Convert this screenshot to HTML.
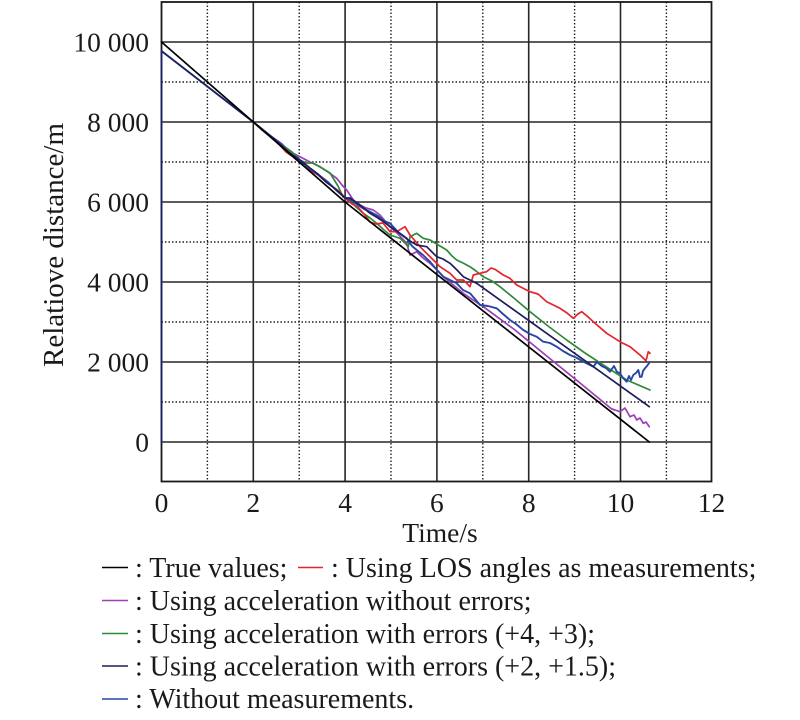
<!DOCTYPE html>
<html>
<head>
<meta charset="utf-8">
<style>
  html,body{margin:0;padding:0;background:#fff;}
  svg{display:block;}
  text{font-family:"Liberation Serif","Times New Roman",serif;fill:#1a1a1a;}
</style>
</head>
<body>
<svg width="800" height="720" viewBox="0 0 800 720" xmlns="http://www.w3.org/2000/svg">
  <rect x="0" y="0" width="800" height="720" fill="#fff"/>

  <!-- minor dotted grid -->
  <g stroke="#222" stroke-width="1.4" stroke-dasharray="1.5,2" fill="none">
    <line x1="207.4" y1="2" x2="207.4" y2="481.5"/>
    <line x1="299.2" y1="2" x2="299.2" y2="481.5"/>
    <line x1="391" y1="2" x2="391" y2="481.5"/>
    <line x1="482.8" y1="2" x2="482.8" y2="481.5"/>
    <line x1="574.6" y1="2" x2="574.6" y2="481.5"/>
    <line x1="666.4" y1="2" x2="666.4" y2="481.5"/>
    <line x1="161.5" y1="82" x2="711.5" y2="82"/>
    <line x1="161.5" y1="162" x2="711.5" y2="162"/>
    <line x1="161.5" y1="242" x2="711.5" y2="242"/>
    <line x1="161.5" y1="322" x2="711.5" y2="322"/>
    <line x1="161.5" y1="402" x2="711.5" y2="402"/>
  </g>
  <!-- major solid grid -->
  <g stroke="#262626" stroke-width="1.6" fill="none">
    <line x1="253.3" y1="2" x2="253.3" y2="481.5"/>
    <line x1="345.1" y1="2" x2="345.1" y2="481.5"/>
    <line x1="436.9" y1="2" x2="436.9" y2="481.5"/>
    <line x1="528.7" y1="2" x2="528.7" y2="481.5"/>
    <line x1="620.5" y1="2" x2="620.5" y2="481.5"/>
    <line x1="161.5" y1="42" x2="711.5" y2="42"/>
    <line x1="161.5" y1="122" x2="711.5" y2="122"/>
    <line x1="161.5" y1="202" x2="711.5" y2="202"/>
    <line x1="161.5" y1="282" x2="711.5" y2="282"/>
    <line x1="161.5" y1="362" x2="711.5" y2="362"/>
    <line x1="161.5" y1="442" x2="711.5" y2="442"/>
  </g>
  <rect x="161.5" y="2" width="550" height="479.5" fill="none" stroke="#1a1a1a" stroke-width="1.8"/>

  <!-- series -->
  <g fill="none" stroke-linejoin="round" stroke-linecap="round">
    <!-- purple -->
    <path stroke="#9a3fb4" stroke-width="1.7" d="M253.3,122 L262,129 L272,137 L282,144 L290,151.7 L300,156.7 L310,162 L320,166.7 L328,172 L336.7,178.3 L342,185 L346.7,190 L353.3,200 L360,205 L366,208 L373.3,210 L380,215 L390,226.7 L398,234 L406.7,243.3 L410,255 L416.7,251.7 L423,258 L430,263.3 L437,270 L443.3,276.7 L453.3,285 L463.3,293.3 L473,300 L483.3,306.7 L515,330 L546.7,356 L580,383 L611.7,409 L615,410 L620,411.7 L625,408 L630,416.7 L634,415 L636.7,420 L640,418 L643.3,423.3 L646,422 L649.3,426.7"/>
    <!-- green -->
    <path stroke="#2f8a3a" stroke-width="1.7" d="M253.3,122 L262,130 L272,138 L282,145 L292,152 L300,160 L306,163 L313,163 L320,167 L330,173 L338,186 L343,197 L350,200 L356,207 L363.3,213.3 L370,218 L376.7,223.3 L384,230 L390,235 L400,238.3 L405,243 L408.3,246.7 L410,236.7 L416.7,233.3 L423.3,238.3 L430,240 L438.3,245 L446.7,250 L452,256 L456.7,260 L463,263 L470,266.7 L476,271 L483.3,276.7 L492,281 L500,286.7 L515,299 L530,311.7 L548,326 L566.7,340 L585,353 L603.3,365 L626.7,380 L650,390"/>
    <!-- red -->
    <path stroke="#e5232b" stroke-width="1.7" d="M253.3,122 L262,130 L270,136 L278,143 L286,152 L292,156 L298,161 L304,163 L310,170 L318,175 L325,181 L332,186 L340,192 L346,199 L352,204 L358,207 L364,214 L370,222 L376,224 L383,223 L390,231.7 L396.7,231.7 L405,226.7 L410,235 L420,246.7 L433.3,260 L440,266.7 L450,273.3 L456.7,280 L463.3,280 L466.7,283.3 L470,286.7 L473.3,275 L480,273.3 L486.7,271.7 L491,268 L495,269.3 L503.3,275 L510,278.3 L516.7,285 L530,291.7 L538,294 L546.7,301.7 L560,308.3 L567,313 L573.3,318.3 L578,314 L581.7,311.7 L587,316 L593.3,321.7 L606.7,333.3 L620,341.7 L630,346.7 L640,355 L646,360.7 L648.3,351.7 L650,353.3"/>
    <!-- blue -->
    <path stroke="#2846a6" stroke-width="1.9" d="M161.5,442 L161.5,51 L253.3,122 L262,129 L272,137 L280,143 L288,152 L296,157 L304,164 L312,170 L320,176 L328,182 L336,190 L344,197 L350,200 L358,205 L364,209 L370,211.7 L378,216 L384,221 L390,223.3 L398,232 L406.7,238.3 L412,246 L416.7,250 L423,255 L430,261.7 L437,270 L443.3,276.7 L450,280 L456.7,283.3 L463,290 L470,293.3 L475,299 L480,305 L488,306 L496.7,308.3 L503,314 L510,320 L516,324 L523.3,330 L530,334 L536.7,336.7 L543.3,341.7 L550,343 L556.7,346.7 L563,351 L570,355 L577,358 L583.3,361.7 L588,364 L593.3,366.7 L597,362 L601.7,366 L606,368 L610,371.7 L614,366 L617,372 L620,373.3 L623,378 L626.7,381.7 L629,376 L631,380 L633.3,375 L636,373 L638.3,370 L640,377 L641.7,376.7 L643,371 L645,368.3 L647,366 L649.3,362.7"/>
    <!-- navy -->
    <path stroke="#1d1f5c" stroke-width="1.7" d="M161.5,442 L161.5,51 L253.3,122 L264,131 L274,139 L284,148 L292,155 L300,160 L310,168 L318,174 L326,182 L334,188 L340,193 L345,198 L350,198 L360,205 L370,213.3 L378,218 L384,222 L390,226.7 L398,232 L408.3,240 L416.7,245 L426.7,246.7 L432,252 L436.7,256.7 L443,259 L450,263.3 L457,270 L463.3,276.7 L470,280 L476.7,283.3 L649.3,406.7"/>
    <!-- black true values -->
    <path stroke="#000" stroke-width="1.7" d="M161.5,42 L253.3,122 L345,202 L649.3,442"/>
  </g>

  <!-- y tick labels -->
  <g font-size="27.5" text-anchor="end">
    <text x="149" y="51.5">10 000</text>
    <text x="149" y="131.5">8 000</text>
    <text x="149" y="211.5">6 000</text>
    <text x="149" y="291.5">4 000</text>
    <text x="149" y="371.5">2 000</text>
    <text x="149" y="451.5">0</text>
  </g>
  <!-- x tick labels -->
  <g font-size="27.5" text-anchor="middle">
    <text x="161.5" y="512">0</text>
    <text x="253.3" y="512">2</text>
    <text x="345.1" y="512">4</text>
    <text x="436.9" y="512">6</text>
    <text x="528.7" y="512">8</text>
    <text x="620.5" y="512">10</text>
    <text x="711.5" y="512">12</text>
  </g>
  <text x="440" y="542" font-size="27.5" text-anchor="middle">Time/s</text>
  <text transform="translate(63,245) rotate(-90)" font-size="29" text-anchor="middle">Relatiove distance/m</text>

  <!-- legend -->
  <g stroke-width="1.6">
    <line x1="102" y1="567.5" x2="128" y2="567.5" stroke="#000"/>
    <line x1="298" y1="567.5" x2="323" y2="567.5" stroke="#e5232b"/>
    <line x1="102" y1="600.5" x2="128" y2="600.5" stroke="#9a3fb4"/>
    <line x1="102" y1="633.5" x2="128" y2="633.5" stroke="#2f8a3a"/>
    <line x1="102" y1="666" x2="128" y2="666" stroke="#1d1f5c"/>
    <line x1="102" y1="699" x2="128" y2="699" stroke="#2846a6"/>
  </g>
  <g font-size="28">
    <text x="135" y="577">: True values;</text>
    <text x="331" y="577">: Using LOS angles as measurements;</text>
    <text x="135" y="610">: Using acceleration without errors;</text>
    <text x="135" y="643">: Using acceleration with errors (+4, +3);</text>
    <text x="135" y="675.5">: Using acceleration with errors (+2, +1.5);</text>
    <text x="135" y="708">: Without measurements.</text>
  </g>
</svg>
</body>
</html>
